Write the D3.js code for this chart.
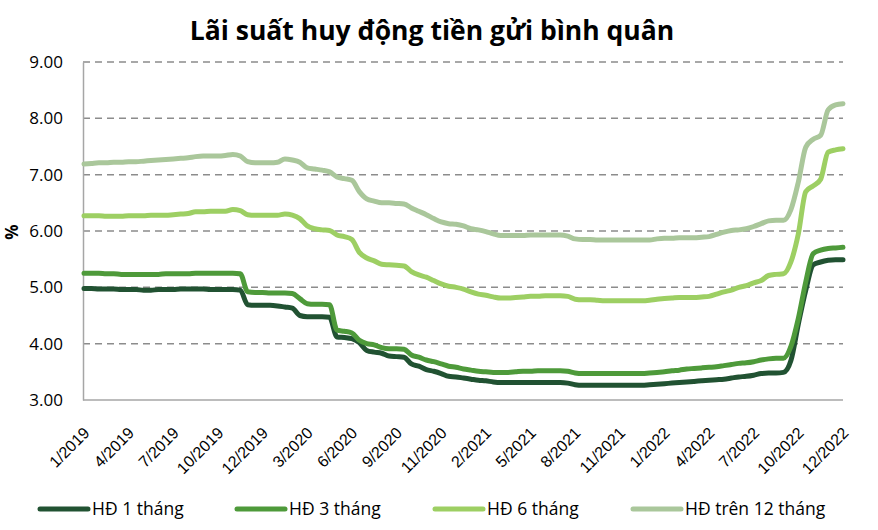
<!DOCTYPE html>
<html><head><meta charset="utf-8">
<script src="https://cdn.jsdelivr.net/npm/d3@7"></script>
<style>
html,body{margin:0;padding:0;background:#fff;}
svg{display:block;font-family:"Open Sans","Noto Sans",sans-serif;}
</style></head>
<body>
<svg id="chart" width="878" height="530"></svg>
<script>
const title = "Lãi suất huy động tiền gửi bình quân";
const yAxisTitle = "%";
const tickLabels = ["1/2019","4/2019","7/2019","10/2019","12/2019","3/2020","6/2020","9/2020","11/2020","2/2021","5/2021","8/2021","11/2021","1/2022","4/2022","7/2022","10/2022","12/2022"];
const pointsPerLabel = 6;
const seriesNames = ["HĐ 1 tháng","HĐ 3 tháng","HĐ 6 tháng","HĐ trên 12 tháng"];
const seriesColors = ["#215232","#4e9a3a","#9dcf63","#aac79b"];
const yTicks = [3,4,5,6,7,8,9];

const hd1 = [4.98,4.98,4.97,4.97,4.97,4.96,4.96,4.96,4.95,4.95,4.96,4.96,4.96,4.97,4.97,4.97,4.97,4.96,4.96,4.96,4.96,4.95,
4.69,4.68,4.68,4.68,4.67,4.65,4.63,4.50,4.48,4.48,4.48,4.47,4.12,4.11,4.09,4.02,3.88,3.85,3.83,3.78,3.77,3.76,3.64,3.60,3.54,3.51,3.47,3.42,3.41,3.39,3.37,3.35,3.34,3.32,3.31,3.31,3.31,3.31,3.31,3.31,3.31,3.31,3.31,3.30,
3.27,3.26,3.26,3.26,3.26,3.26,3.26,3.26,3.26,3.26,3.27,3.28,3.29,3.30,3.31,3.32,3.33,3.34,3.35,3.36,3.37,3.39,3.41,3.42,3.44,3.47,3.48,3.48,3.49,
3.70,4.35,4.95,5.40,5.45,5.48,5.49,5.49];
const hd3 = [5.25,5.25,5.25,5.24,5.24,5.23,5.23,5.23,5.23,5.23,5.23,5.24,5.24,5.24,5.24,5.25,5.25,5.25,5.25,5.25,5.25,5.24,
4.92,4.91,4.91,4.90,4.90,4.90,4.89,4.80,4.71,4.70,4.70,4.69,4.24,4.22,4.19,4.06,4.00,3.98,3.93,3.91,3.91,3.90,3.80,3.76,3.71,3.68,3.64,3.60,3.58,3.55,3.53,3.51,3.50,3.49,3.49,3.49,3.50,3.51,3.51,3.52,3.52,3.52,3.52,3.51,
3.48,3.47,3.47,3.47,3.47,3.47,3.47,3.47,3.47,3.47,3.48,3.49,3.50,3.52,3.53,3.55,3.56,3.57,3.58,3.59,3.61,3.63,3.65,3.66,3.68,3.71,3.73,3.74,3.74,
3.95,4.45,5.10,5.60,5.66,5.69,5.70,5.71];
const hd6 = [6.27,6.27,6.27,6.26,6.26,6.26,6.27,6.27,6.27,6.28,6.28,6.28,6.29,6.30,6.31,6.34,6.34,6.35,6.35,6.35,6.38,6.36,
6.29,6.28,6.28,6.28,6.28,6.30,6.28,6.22,6.09,6.04,6.02,6.01,5.93,5.90,5.85,5.62,5.52,5.47,5.41,5.40,5.39,5.38,5.28,5.22,5.18,5.12,5.06,5.02,5.00,4.97,4.92,4.88,4.86,4.83,4.81,4.81,4.82,4.83,4.84,4.84,4.85,4.85,4.85,4.84,
4.79,4.78,4.78,4.77,4.76,4.76,4.76,4.76,4.76,4.76,4.77,4.79,4.80,4.81,4.82,4.82,4.82,4.83,4.84,4.88,4.92,4.95,5.00,5.03,5.08,5.12,5.21,5.23,5.24,
5.45,5.95,6.70,6.80,6.92,7.40,7.44,7.46];
const hd12 = [7.19,7.20,7.21,7.21,7.22,7.22,7.23,7.23,7.24,7.25,7.26,7.27,7.28,7.29,7.30,7.32,7.33,7.33,7.33,7.34,7.36,7.33,
7.23,7.21,7.21,7.21,7.22,7.28,7.26,7.22,7.12,7.10,7.08,7.05,6.96,6.93,6.90,6.70,6.57,6.53,6.50,6.50,6.49,6.48,6.41,6.35,6.29,6.22,6.16,6.13,6.12,6.09,6.04,6.02,5.99,5.95,5.92,5.92,5.92,5.92,5.93,5.93,5.93,5.93,5.93,5.91,
5.86,5.85,5.85,5.84,5.84,5.84,5.84,5.84,5.84,5.84,5.84,5.86,5.87,5.87,5.88,5.88,5.88,5.89,5.90,5.94,5.98,6.01,6.02,6.04,6.08,6.13,6.18,6.19,6.19,
6.38,6.87,7.49,7.63,7.70,8.15,8.24,8.26];

const seriesValues = [hd1, hd3, hd6, hd12];
const nPoints = hd1.length;

const svg = d3.select("#chart");
const margin = {left:84, right:35, top:62, bottom:130};
const W = 878, H = 530;

const x = d3.scaleLinear().domain([0, nPoints-1]).range([margin.left, W - margin.right]);
const y = d3.scaleLinear().domain([3, 9]).range([H - margin.bottom, margin.top]);

// title
svg.append("text").attr("x", 432).attr("y", 40).attr("text-anchor","middle")
  .attr("font-size", 26.5).attr("font-weight", 700).attr("fill","#000").text(title);

// gridlines
svg.append("g").selectAll("line").data(yTicks.filter(d=>d>3)).join("line")
  .attr("x1", x(0)-1).attr("x2", x(nPoints-1))
  .attr("y1", d=>y(d)).attr("y2", d=>y(d))
  .attr("stroke","#8c8c8c").attr("stroke-width",1.5).attr("stroke-dasharray","7,5");

// y axis
const yAxis = svg.append("g").attr("transform", `translate(${x(0)-1},0)`)
  .call(d3.axisLeft(y).tickValues(yTicks).tickFormat(d3.format(".2f")).tickSize(0).tickPadding(20));
yAxis.select(".domain").attr("stroke","#a6a6a6").attr("stroke-width",1.5);
yAxis.selectAll("text").attr("font-size",17).attr("fill","#000").attr("font-family","\"Open Sans\",sans-serif");

// x axis
const xAxis = svg.append("g").attr("transform", `translate(0,${y(3)})`)
  .call(d3.axisBottom(x).tickValues(d3.range(0, nPoints, pointsPerLabel)).tickFormat((d,i)=>tickLabels[i]).tickSize(0));
xAxis.select(".domain").attr("stroke","#a6a6a6").attr("stroke-width",1.5)
  .attr("d", `M${x(0)-1},0H${x(nPoints-1)}`);
xAxis.selectAll("text").attr("font-size",16).attr("fill","#000")
  .attr("text-anchor","end").attr("dy",null).attr("y",null)
  .attr("transform","translate(6,34) rotate(-45)");

// y title
svg.append("text").attr("transform","translate(18,232) rotate(-90)")
  .attr("text-anchor","middle").attr("font-size",17).attr("font-weight",700).text(yAxisTitle);

// lines
const line = d3.line().x((d,i)=>x(i)).y(d=>y(d)).curve(d3.curveMonotoneX);
svg.append("g").selectAll("path").data(seriesValues).join("path")
  .attr("d", line).attr("fill","none")
  .attr("stroke",(d,i)=>seriesColors[i]).attr("stroke-width",5)
  .attr("stroke-linejoin","round").attr("stroke-linecap","round");

// legend
const legendX = [40, 237, 435, 633];
const lg = svg.append("g").selectAll("g").data(seriesNames).join("g")
  .attr("transform",(d,i)=>`translate(${legendX[i]},509)`);
lg.append("line").attr("x1",0).attr("x2",48).attr("y1",0).attr("y2",0)
  .attr("stroke",(d,i)=>seriesColors[i]).attr("stroke-width",5).attr("stroke-linecap","round");
lg.append("text").attr("x",52).attr("y",0).attr("dy","0.35em")
  .attr("font-size",17.5).attr("fill","#000").text(d=>d);
</script>
</body></html>
